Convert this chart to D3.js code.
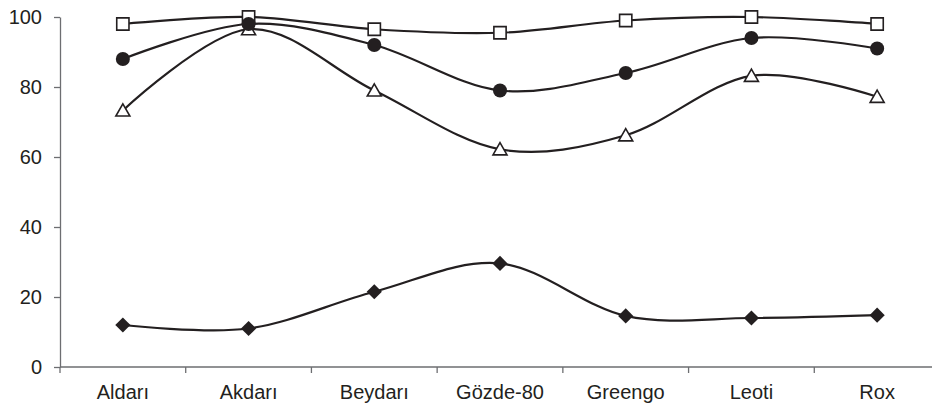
<!DOCTYPE html>
<html>
<head>
<meta charset="utf-8">
<script src="https://cdn.jsdelivr.net/npm/d3@7"></script>
<style>
  html, body { margin: 0; padding: 0; background: #fff; }
  svg { display: block; }
  text { font-family: "Liberation Sans", Arial, sans-serif; fill: #231f20; }
</style>
</head>
<body>
<svg id="chart" width="932" height="406"></svg>
<script>
// Cultivars along the x axis
const categories = ["Aldarı", "Akdarı", "Beydarı", "Gözde-80", "Greengo", "Leoti", "Rox"];

// Series values, one per cultivar
const squareValues   = [98, 100, 96.5, 95.5, 99, 100, 98];
const triangleValues = [73.3, 96.5, 79, 62.2, 66.2, 83.2, 77.2];
const circleValues   = [88, 98, 92, 79, 84, 94, 91];
const diamondValues  = [12, 11, 21.5, 29.6, 14.6, 14, 14.8];

// Y axis tick labels
const yTicks = [0, 20, 40, 60, 80, 100];

const svg = d3.select("#chart");
const ink = "#231f20";
const axisColor = "#6d6e71";

const x = d3.scaleBand().domain(categories).range([60, 940]).paddingInner(0).paddingOuter(0);
const y = d3.scaleLinear().domain([0, 100]).range([367, 17]);

// Y axis
const yAxis = svg.append("g")
  .attr("transform", "translate(60,0)")
  .call(d3.axisLeft(y).tickValues(yTicks).tickSize(6).tickSizeOuter(0).tickPadding(12));
yAxis.select(".domain").attr("stroke", axisColor).attr("stroke-width", 1.3);
yAxis.selectAll(".tick line").attr("stroke", axisColor).attr("stroke-width", 1.3);
yAxis.selectAll(".tick text").style("font-size", "20px").attr("fill", ink);

// X axis: labels centred in each band, tick marks on the band edges
const xAxis = svg.append("g")
  .attr("transform", "translate(0,367)")
  .call(d3.axisBottom(x).tickSize(0).tickSizeOuter(0).tickPadding(18));
xAxis.select(".domain").remove();
xAxis.selectAll(".tick text").style("font-size", "20px").attr("fill", ink);
xAxis.append("line")
  .attr("x1", x.range()[0]).attr("x2", x.range()[1])
  .attr("y1", 0).attr("y2", 0)
  .attr("stroke", axisColor).attr("stroke-width", 1.3);
const edges = categories.map(c => x(c)).concat([x.range()[1]]);
xAxis.selectAll(".edge")
  .data(edges)
  .join("line")
  .attr("class", "edge")
  .attr("x1", d => d).attr("x2", d => d)
  .attr("y1", 0).attr("y2", 6)
  .attr("stroke", axisColor).attr("stroke-width", 1.3);

const cx = c => x(c) + x.bandwidth() / 2;

const line = d3.line()
  .x((d, i) => cx(categories[i]))
  .y(d => y(d))
  .curve(d3.curveCardinal.tension(0));

const series = [
  { values: squareValues,   symbol: d3.symbolSquare,   size: 150, fill: "#fff", stroke: ink, sw: 1.6, dy: 0 },
  { values: triangleValues, symbol: d3.symbolTriangle, size: 85,  fill: "#fff", stroke: ink, sw: 1.6, dy: 1.5 },
  { values: circleValues,   symbol: d3.symbolCircle,   size: 155, fill: ink,    stroke: ink, sw: 0,   dy: 0 },
  { values: diamondValues,  symbol: d3.symbolSquare,   size: 115, fill: ink,    stroke: ink, sw: 0,   dy: 0, rotate: 45 }
];

series.forEach(s => {
  const g = svg.append("g");
  g.append("path")
    .attr("d", line(s.values))
    .attr("fill", "none")
    .attr("stroke", ink)
    .attr("stroke-width", 2.2);
  g.selectAll(".m")
    .data(s.values)
    .join("path")
    .attr("class", "m")
    .attr("d", d3.symbol().type(s.symbol).size(s.size))
    .attr("transform", (d, i) => `translate(${cx(categories[i])},${y(d) + s.dy})` + (s.rotate ? ` rotate(${s.rotate})` : ""))
    .attr("fill", s.fill)
    .attr("stroke", s.stroke)
    .attr("stroke-width", s.sw);
});
</script>
</body>
</html>
